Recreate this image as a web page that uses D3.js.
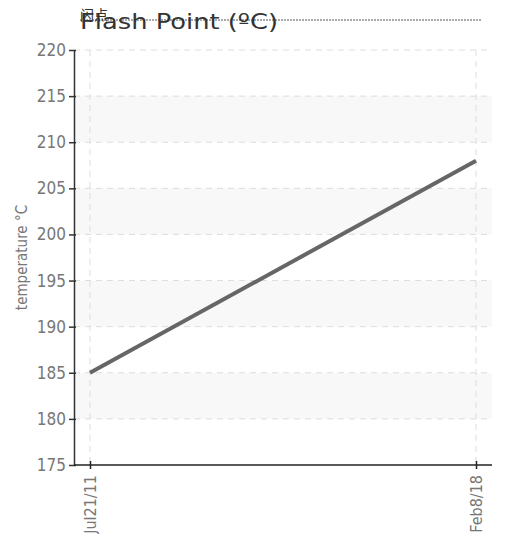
<!DOCTYPE html>
<html>
<head>
<meta charset="utf-8">
<script src="https://cdn.jsdelivr.net/npm/d3@7"></script>
<style>
    body { margin: 0; background: #fff; }
    .tickLabel { font-family: "DejaVu Sans Condensed", "DejaVu Sans", sans-serif; font-stretch: condensed; fill: #777; }
</style>
</head>
<body>
<div id="svgWrapper"></div>
<script>
// chart data
const dates = ['2011-07-21', '2018-02-08'];
const flashPoint = [185, 208];
const yTicks = [175, 180, 185, 190, 195, 200, 205, 210, 215, 220];
const titleText = 'Flash Point (ºC)';
const titleCjk = '闪点';
const yLabel = 'temperature °C';

function drawGraph() {
    const w = 506;
    const h = 534;
    const left = 74, right = 492, top = 50, bottom = 465;
    const xPad = 16;

    const parse = d3.timeParse('%Y-%m-%d');
    const data = dates.map((d, i) => [parse(d), flashPoint[i]]);

    const svg = d3.select('#svgWrapper')
        .append('svg')
        .attr('width', w)
        .attr('height', h);

    const xScale = d3.scaleTime()
        .domain(d3.extent(data, (d) => d[0]))
        .range([left + xPad, right - xPad]);

    const yScale = d3.scaleLinear()
        .domain([d3.min(yTicks), d3.max(yTicks)])
        .range([bottom, top]);

    // alternating bands
    for (let i = 1; i < yTicks.length - 1; i += 2) {
        svg.append('rect')
            .attr('x', left)
            .attr('y', yScale(yTicks[i + 1]))
            .attr('width', right - left)
            .attr('height', yScale(yTicks[i]) - yScale(yTicks[i + 1]))
            .attr('fill', '#f8f8f8');
    }

    // horizontal grid
    svg.append('g')
        .selectAll('line')
        .data(yTicks.slice(1))
        .enter()
        .append('line')
        .attr('x1', left).attr('x2', right)
        .attr('y1', (d) => yScale(d)).attr('y2', (d) => yScale(d))
        .attr('stroke', '#ddd')
        .attr('stroke-dasharray', '6,5');

    // vertical grid
    svg.append('g')
        .selectAll('line')
        .data(data)
        .enter()
        .append('line')
        .attr('x1', (d) => xScale(d[0])).attr('x2', (d) => xScale(d[0]))
        .attr('y1', top).attr('y2', bottom)
        .attr('stroke', '#ddd')
        .attr('stroke-dasharray', '6,5');

    // axes
    const yAxis = d3.axisLeft(yScale).tickValues(yTicks).tickSizeInner(5).tickSizeOuter(0);
    const gy = svg.append('g')
        .attr('transform', 'translate(' + left + ', 0)')
        .call(yAxis);
    gy.select('.domain').attr('stroke', '#333').attr('stroke-width', 1.5);
    gy.selectAll('.tick line').attr('stroke', '#333').attr('stroke-width', 1.5).attr('x2', 2).attr('x1', -5);
    gy.selectAll('.tick text')
        .attr('class', 'tickLabel')
        .attr('x', -8)
        .style('font-size', '17px');

    const xAxis = d3.axisBottom(xScale)
        .tickValues(data.map((d) => d[0]))
        .tickFormat(d3.timeFormat('%b%-d/%y'))
        .tickSizeInner(5)
        .tickSizeOuter(0);
    const gx = svg.append('g')
        .attr('transform', 'translate(0, ' + bottom + ')')
        .call(xAxis);
    gx.select('.domain').attr('stroke', '#222').attr('stroke-width', 1.5).attr('d', 'M' + left + ',0H' + right);
    gx.selectAll('.tick line').attr('stroke', '#222').attr('stroke-width', 1.5).attr('y1', -4).attr('y2', 4);
    gx.selectAll('.tick text')
        .attr('class', 'tickLabel')
        .style('font-size', '16px')
        .attr('text-anchor', 'end')
        .attr('transform', 'rotate(-90)')
        .attr('x', -10)
        .attr('y', 0)
        .attr('dy', '0.35em');

    // y label
    svg.append('text')
        .attr('class', 'tickLabel')
        .attr('transform', 'translate(22, ' + ((top + bottom) / 2) + ') rotate(-90)')
        .attr('text-anchor', 'middle')
        .attr('dy', '0.35em')
        .style('font-size', '15px')
        .text(yLabel);

    // series line
    const line = d3.line()
        .x((d) => xScale(d[0]))
        .y((d) => yScale(d[1]));
    svg.append('path')
        .datum(data)
        .attr('d', line)
        .attr('fill', 'none')
        .attr('stroke', '#666')
        .attr('stroke-width', 4);

    // title with its overlapping bits
    svg.append('line')
        .attr('x1', 80).attr('x2', 481)
        .attr('y1', 20).attr('y2', 20)
        .attr('stroke', '#555')
        .attr('stroke-width', 1)
        .attr('stroke-dasharray', '2,1');
    svg.append('text')
        .attr('x', 80)
        .attr('y', 29)
        .style('font-family', '"DejaVu Sans", sans-serif')
        .style('font-size', '22px')
        .attr('textLength', 198)
        .attr('lengthAdjust', 'spacingAndGlyphs')
        .attr('fill', '#333')
        .text(titleText);
    svg.append('text')
        .attr('x', 80)
        .attr('y', 20)
        .style('font-family', '"Noto Sans CJK SC", sans-serif')
        .style('font-size', '14px')
        .attr('fill', '#333')
        .text(titleCjk);
}

drawGraph();
</script>
</body>
</html>
